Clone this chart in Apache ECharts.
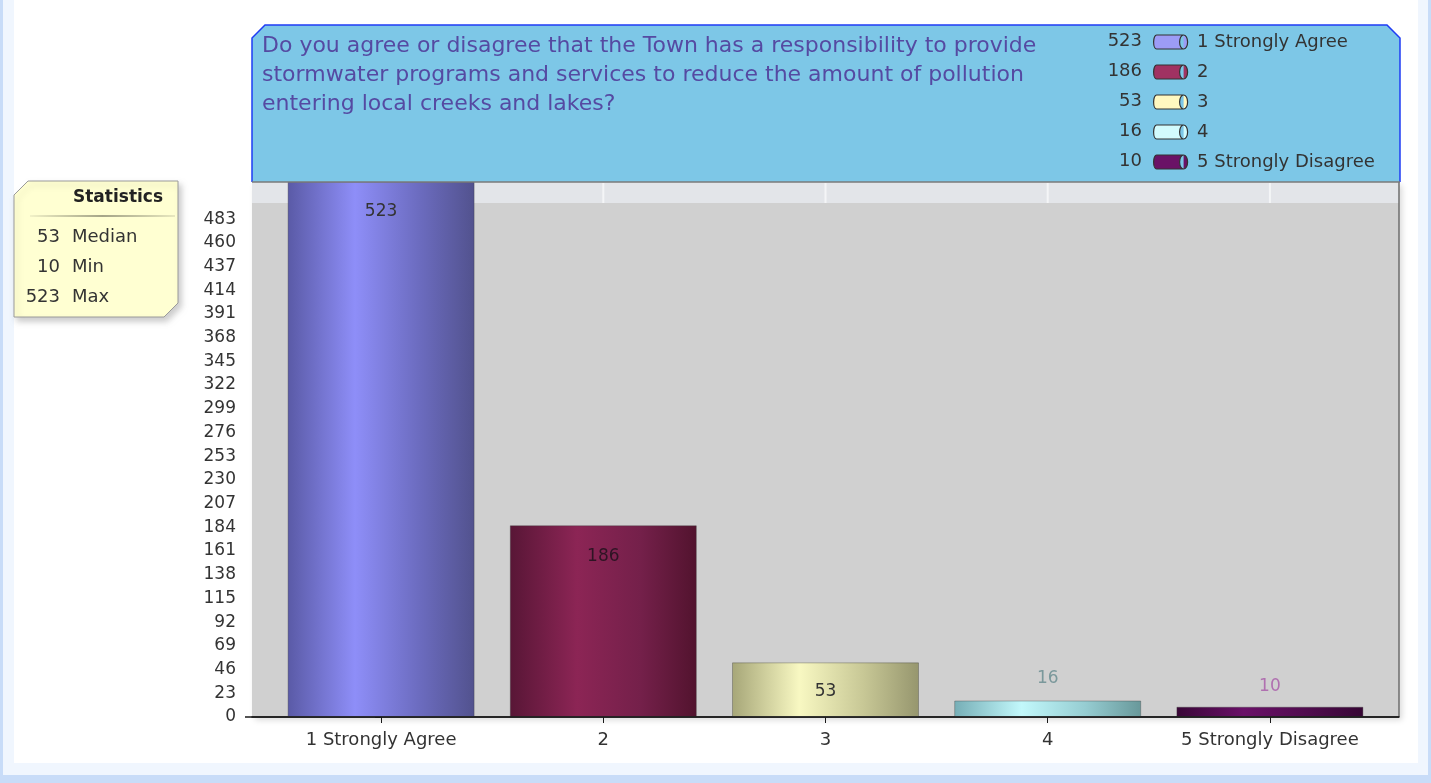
<!DOCTYPE html>
<html>
<head>
<meta charset="utf-8">
<script src="https://cdn.jsdelivr.net/npm/echarts@6/dist/echarts.min.js"></script>
<style>
html,body{margin:0;padding:0;background:#c8dcf8;}
#main{width:1431px;height:783px;}
</style>
</head>
<body>
<div id="main"></div>
<script>
// ---- data ----
const categories = ['1 Strongly Agree', '2', '3', '4', '5 Strongly Disagree'];
const values = [523, 186, 53, 16, 10];
const yTicks = [0, 23, 46, 69, 92, 115, 138, 161, 184, 207, 230, 253, 276, 299, 322, 345, 368, 391, 414, 437, 460, 483];
const xTicks = [0, 1, 2, 3, 4];
const statsValues = [53, 10, 523];
const statsLabels = ['Median', 'Min', 'Max'];
const titleLines = [
  'Do you agree or disagree that the Town has a responsibility to provide',
  'stormwater programs and services to reduce the amount of pollution',
  'entering local creeks and lakes?'
];

const FONT = '"DejaVu Sans", Verdana, sans-serif';
const barGradients = [
  ['#5a5aa6', '#8e8ef8', '#6c6cc0', '#52528e'],
  ['#581636', '#8c2555', '#74204a', '#52132e'],
  ['#a6a678', '#f8f8c2', '#c8c896', '#96966e'],
  ['#76aeb6', '#c2f8fb', '#96cdd2', '#68989a'],
  ['#380636', '#6a1068', '#500c4e', '#360634']
];
const legendColors = ['#9c9cf6', '#a03262', '#fff8c0', '#d2fbfd', '#6a1266'];
const labelStyles = [
  {position: 'insideTop', distance: 22, color: '#333333'},
  {position: 'insideTop', distance: 23, color: '#2e1424'},
  {position: 'insideTop', distance: 21, color: '#333333'},
  {position: 'top', distance: 13, color: '#7a989b'},
  {position: 'top', distance: 12, color: '#b070b0'}
];

function grad(c) {
  return new echarts.graphic.LinearGradient(0, 0, 1, 0, [
    {offset: 0, color: c[0]}, {offset: 0.36, color: c[1]},
    {offset: 0.7, color: c[2]}, {offset: 1, color: c[3]}
  ]);
}

const series = categories.map((name, i) => ({
  type: 'bar',
  name: name,
  data: [[i, values[i]]],
  barWidth: 187,
  barGap: '-100%',
  clip: true,
  itemStyle: {color: grad(barGradients[i]), borderColor: 'rgba(60,60,60,0.35)', borderWidth: 1},
  label: {
    show: true,
    position: labelStyles[i].position,
    distance: labelStyles[i].distance,
    color: labelStyles[i].color,
    fontSize: 17,
    fontFamily: FONT,
    formatter: p => String(p.value[1])
  },
  emphasis: {disabled: true}
}));

// ---- decorations (layout only) ----
const graphics = [];
graphics.push({type: 'rect', z: -20, shape: {x: 3, y: 0, width: 1425, height: 775}, style: {fill: '#f0f6fe'}});
graphics.push({type: 'rect', z: -19, shape: {x: 14, y: 0, width: 1404, height: 763}, style: {fill: '#ffffff'}});
// plot background
graphics.push({type: 'rect', z: -10, shape: {x: 252, y: 182, width: 1147, height: 535},
  style: {fill: '#d0d0d0', shadowBlur: 6, shadowOffsetX: 3, shadowOffsetY: 3, shadowColor: 'rgba(0,0,0,0.15)'}});
graphics.push({type: 'rect', z: -9, shape: {x: 252, y: 182, width: 1147, height: 21}, style: {fill: '#e3e5e9'}});
graphics.push({type: 'line', z: -8, shape: {x1: 1399, y1: 182, x2: 1399, y2: 717}, style: {stroke: '#6e6e6e', lineWidth: 1.5}});
graphics.push({type: 'line', z: 5, shape: {x1: 245, y1: 717, x2: 1399, y2: 717}, style: {stroke: '#1a1a1a', lineWidth: 1.5}});

// header box
graphics.push({type: 'polygon', z: 50, shape: {points: [[252, 182], [252, 38], [265, 25], [1387, 25], [1400, 38], [1400, 182]]},
  style: {fill: '#7dc7e7'}});
graphics.push({type: 'polyline', z: 51, shape: {points: [[252, 182], [252, 38], [265, 25], [1387, 25], [1400, 38], [1400, 182]]},
  style: {stroke: '#1f3cf5', lineWidth: 1.5, fill: null}});
graphics.push({type: 'line', z: 51, shape: {x1: 252, y1: 182, x2: 1400, y2: 182}, style: {stroke: '#7a7a7a', lineWidth: 1.5}});
graphics.push({type: 'text', z: 52, x: 262, y: 32,
  style: {text: titleLines.join('\n'), font: '22px ' + FONT, fill: '#554aa2', lineHeight: 29}});
values.forEach((v, i) => {
  graphics.push({type: 'text', z: 52, x: 1142, y: 41 + i * 30,
    style: {text: String(v), font: '18px ' + FONT, fill: '#333333', align: 'right', verticalAlign: 'middle'}});
});

// statistics box
graphics.push({type: 'polygon', z: 50, shape: {points: [[14, 195], [28, 181], [178, 181], [178, 303], [164, 317], [14, 317]]},
  style: {fill: '#ffffd2', stroke: '#9a9a9a', lineWidth: 1, shadowBlur: 6, shadowOffsetX: 3, shadowOffsetY: 4, shadowColor: 'rgba(0,0,0,0.2)'}});
graphics.push({type: 'text', z: 52, x: 118, y: 198,
  style: {text: 'Statistics', font: 'bold 17px ' + FONT, fill: '#222222', align: 'center', verticalAlign: 'middle'}});
graphics.push({type: 'line', z: 52, shape: {x1: 30, y1: 216, x2: 175, y2: 216},
  style: {stroke: new echarts.graphic.LinearGradient(0, 0, 1, 0, [{offset: 0, color: 'rgba(120,120,100,0.1)'}, {offset: 0.5, color: '#888870'}, {offset: 1, color: 'rgba(120,120,100,0.2)'}]), lineWidth: 1.5}});
statsValues.forEach((v, i) => {
  graphics.push({type: 'text', z: 52, x: 60, y: 237 + i * 30,
    style: {text: String(v), font: '18px ' + FONT, fill: '#333333', align: 'right', verticalAlign: 'middle'}});
  graphics.push({type: 'text', z: 52, x: 72, y: 237 + i * 30,
    style: {text: statsLabels[i], font: '18px ' + FONT, fill: '#333333', align: 'left', verticalAlign: 'middle'}});
});

const chart = echarts.init(document.getElementById('main'), null, {renderer: 'canvas'});
const option = {
  animation: false,
  backgroundColor: '#c8dcf8',
  textStyle: {fontFamily: FONT},
  grid: {left: 252, right: 32, top: 182, bottom: 66, containLabel: false},
  xAxis: {
    type: 'value',
    min: -0.581, max: 4.581,
    axisLine: {show: true, onZero: false, lineStyle: {color: '#1a1a1a', width: 1.5}},
    axisTick: {show: true, length: 6, lineStyle: {color: '#1a1a1a'}, customValues: xTicks},
    axisLabel: {fontSize: 18, color: '#333333', margin: 14, fontFamily: FONT, customValues: xTicks,
      formatter: v => categories[Math.round(v)]},
    splitLine: {show: false}
  },
  yAxis: {
    type: 'value',
    min: 0, max: 519,
    axisLine: {show: true, lineStyle: {color: '#1a1a1a', width: 1.5}},
    axisTick: {show: true, length: 6, lineStyle: {color: '#1a1a1a'}, customValues: yTicks},
    axisLabel: {fontSize: 17, color: '#333333', margin: 16, fontFamily: FONT, customValues: yTicks},
    splitLine: {show: false}
  },
  legend: {
    orient: 'vertical',
    left: 1153, top: 33,
    padding: 0,
    itemWidth: 35, itemHeight: 14, itemGap: 12,
    icon: 'path://M3,0 L30,0 A4,7 0 0 1 30,14 L3,14 A3,7 0 0 1 3,0 Z M30,0 A4,7 0 0 0 30,14',
    z: 60,
    selectedMode: false,
    textStyle: {fontSize: 18, color: '#333333', fontFamily: FONT, lineHeight: 18, height: 18, padding: [0, 0, 0, 4]},
    data: categories.map((c, i) => ({name: c, itemStyle: {color: legendColors[i], borderColor: '#333333', borderWidth: 1.2}}))
  },
  graphic: graphics,
  series: series
};
chart.setOption(option);

// light separator lines in the top band at category positions
const extra = xTicks.map(t => {
  const px = chart.convertToPixel({xAxisIndex: 0}, t);
  return {type: 'line', z: -8, shape: {x1: px, y1: 183, x2: px, y2: 203}, style: {stroke: '#f4f5f7', lineWidth: 2}};
});
chart.setOption({graphic: graphics.concat(extra)});
</script>
</body>
</html>
